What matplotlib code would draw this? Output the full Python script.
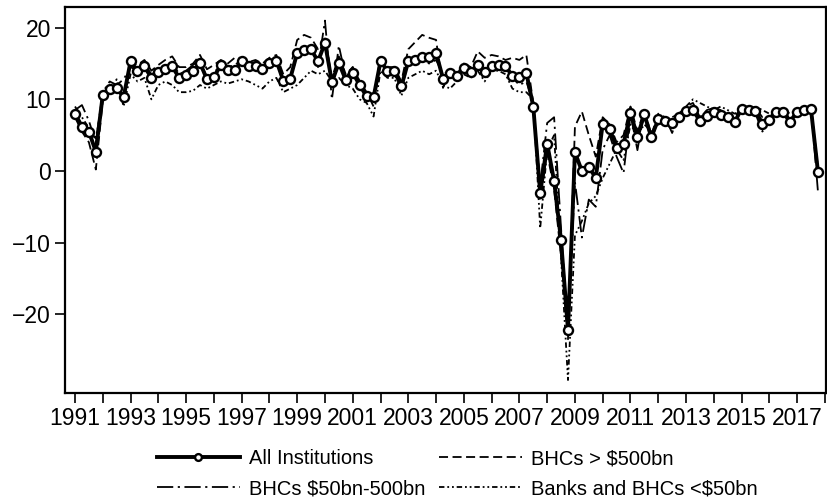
import matplotlib.pyplot as plt
import numpy as np

plt.rcParams['font.family'] = ['Liberation Sans', 'DejaVu Sans']

# quarterly data, 1991Q1 - 2017Q4
years = np.arange(1991, 2018)

all_inst = [8.0, 6.2, 5.5, 2.7, 10.6, 11.4, 11.6, 10.3, 15.3, 13.9, 14.6, 13.0,
            13.8, 14.3, 14.6, 13.0, 13.4, 13.9, 15.1, 12.8, 13.1, 14.8, 14.1, 14.1,
            15.3, 14.6, 14.7, 14.3, 15.1, 15.4, 12.6, 12.9, 16.5, 16.9, 17.0, 15.3,
            17.9, 12.4, 15.1, 12.7, 13.7, 12.0, 10.4, 10.3, 15.3, 14.0, 14.0, 11.8,
            15.3, 15.5, 15.9, 15.9, 16.5, 12.9, 13.7, 13.2, 14.4, 13.8, 14.8, 13.8,
            14.6, 14.8, 14.6, 13.3, 13.1, 13.7, 9.0, -3.1, 3.8, -1.4, -9.7, -22.2,
            2.6, 0.0, 0.6, -1.0, 6.6, 5.9, 3.2, 3.8, 8.1, 4.8, 7.9, 4.7,
            7.2, 7.0, 6.7, 7.5, 8.4, 8.5, 7.0, 7.7, 8.3, 7.8, 7.6, 6.8,
            8.7, 8.5, 8.4, 6.6, 7.1, 8.2, 8.3, 6.9, 8.3, 8.5, 8.6, -0.1]

big = [7.5, 5.5, 4.0, 0.2, 9.8, 11.0, 12.0, 10.5, 15.0, 14.8, 15.5, 14.0,
       14.8, 15.5, 16.0, 14.5, 14.5, 15.0, 16.2, 14.2, 14.8, 15.5, 15.0, 15.8,
       15.8, 15.2, 15.5, 15.0, 15.8, 16.2, 13.5, 14.5, 18.3, 19.0, 18.6, 17.0,
       18.5, 13.0, 16.0, 13.5, 14.5, 12.5, 11.0, 9.0, 15.5, 14.5, 14.5, 12.5,
       17.0, 18.0, 19.0, 18.6, 18.3, 11.6, 14.0, 13.5, 15.0, 14.5, 16.7, 15.8,
       16.2, 16.0, 15.5, 15.8, 15.5, 16.2, 9.5, -4.0, 2.5, -2.5, -12.0, -23.5,
       6.2, 8.3, 5.0, 2.0, 7.5, 6.5, 4.0, 5.0, 9.0, 5.5, 8.5, 5.0,
       8.0, 7.5, 5.3, 8.0, 9.0, 9.5, 7.5, 8.5, 8.8, 8.5, 7.0, 7.5,
       9.0, 9.0, 8.8, 7.5, 7.5, 8.5, 8.8, 7.0, 8.5, 8.8, 9.0, 0.5]

mid = [8.5, 9.2, 7.0, 4.0, 11.0, 12.5, 12.0, 12.8, 14.5, 14.0, 15.0, 13.5,
       14.0, 14.5, 15.2, 13.5, 14.0, 14.8, 15.5, 13.0, 13.5, 15.2, 14.5, 14.8,
       15.5, 15.0, 15.2, 14.0, 15.0, 15.8, 12.0, 13.0, 16.0, 16.5, 17.5, 14.5,
       21.0, 10.0, 17.5, 13.0, 14.5, 12.5, 10.5, 10.0, 16.0, 14.0, 13.5, 11.5,
       15.0, 15.0, 15.5, 15.0, 15.5, 13.5, 14.0, 13.0, 14.5, 13.5, 15.0, 14.0,
       14.8, 15.0, 14.5, 13.0, 12.0, 12.5, 9.5, -2.0, 6.7, 7.5, -8.0, -22.5,
       -1.5, -9.3, -4.0, -5.0, 3.0, 5.0, 2.0, -0.3, 8.0, 2.9, 8.5, 4.0,
       7.5, 6.5, 6.5, 7.0, 8.0, 9.0, 6.5, 7.5, 8.0, 7.5, 8.0, 6.5,
       8.8, 8.5, 8.0, 5.5, 7.0, 8.5, 8.0, 6.5, 8.0, 8.8, 9.0, -2.9]

small = [9.0, 7.5, 6.0, 4.5, 10.0, 11.0, 12.8, 9.0, 13.5, 12.5, 13.0, 10.0,
         12.0, 12.5, 12.0, 11.0, 11.0, 11.2, 12.0, 11.5, 12.0, 12.5, 12.2, 12.5,
         12.8, 12.5, 12.0, 11.5, 12.5, 13.0, 11.0, 11.5, 12.0, 13.0, 14.0, 13.5,
         14.0, 12.5, 13.0, 12.0, 11.5, 10.0, 9.5, 7.6, 14.0, 13.0, 13.0, 10.5,
         13.0, 13.5, 14.0, 13.5, 14.0, 12.0, 11.5, 12.5, 13.5, 13.0, 14.0, 12.5,
         14.0, 14.0, 13.5, 11.5, 11.0, 11.0, 10.0, -8.0, 3.0, 5.0, -12.0, -29.2,
         -9.0, -7.0, -4.5, -3.5, -1.0, 1.0, 3.0, 1.5, 6.5, 5.0, 6.5, 5.5,
         6.5, 7.0, 7.5, 8.0, 9.0, 10.0, 9.5, 9.0, 8.5, 9.0, 8.5, 8.0,
         8.5, 8.8, 9.0, 8.5, 8.0, 8.5, 8.5, 8.0, 8.5, 9.0, 9.0, 0.0]

t = np.repeat(years, 4) + np.tile([0, 0.25, 0.5, 0.75], len(years))

fig = plt.figure(figsize=(8.27, 4.98), dpi=100)
ax = fig.add_axes([0.0786, 0.211, 0.9202, 0.775])

h_mid, = ax.plot(t, mid, color='black', lw=1.3, ls=(0, (9, 2.5, 1.2, 2.5)),
                 label='BHCs $50bn-500bn')
h_small, = ax.plot(t, small, color='black', lw=1.3,
                   ls=(0, (3, 1.6, 1, 1.6, 1, 1.6)),
                   label='Banks and BHCs <$50bn')
h_big, = ax.plot(t, big, color='black', lw=1.3, ls=(0, (5, 2.5)),
                 label='BHCs > $500bn')
h_all, = ax.plot(t, all_inst, color='black', lw=2.8, marker='o', ms=6.5,
                 mfc='white', mec='black', mew=1.7, label='All Institutions')

ax.set_xlim(1990.64, 2018.04)
ax.set_ylim(-31.0, 22.9)
ax.set_xticks(np.arange(1991, 2019))
ax.set_xticklabels([str(y) if (y - 1991) % 2 == 0 else '' for y in range(1991, 2019)])
ax.set_yticks([-20, -10, 0, 10, 20])
ax.set_yticklabels(['\u221220', '\u221210', '0', '10', '20'])
ax.tick_params(direction='out', length=7, width=1.2, labelsize=16.5, pad=3)
for s in ax.spines.values():
    s.set_linewidth(1.6)

fig.legend([h_all, h_mid, h_big, h_small],
           ['All Institutions', 'BHCs $50bn-500bn', 'BHCs > $500bn',
            'Banks and BHCs <$50bn'],
           ncol=2, loc='center', bbox_to_anchor=(0.553, 0.049),
           frameon=False, fontsize=14.5, handlelength=4.1, columnspacing=0.7,
           handletextpad=0.45, labelspacing=0.55, borderpad=0.2,
           markerscale=0.75)

fig.savefig('out.png', dpi=100)
